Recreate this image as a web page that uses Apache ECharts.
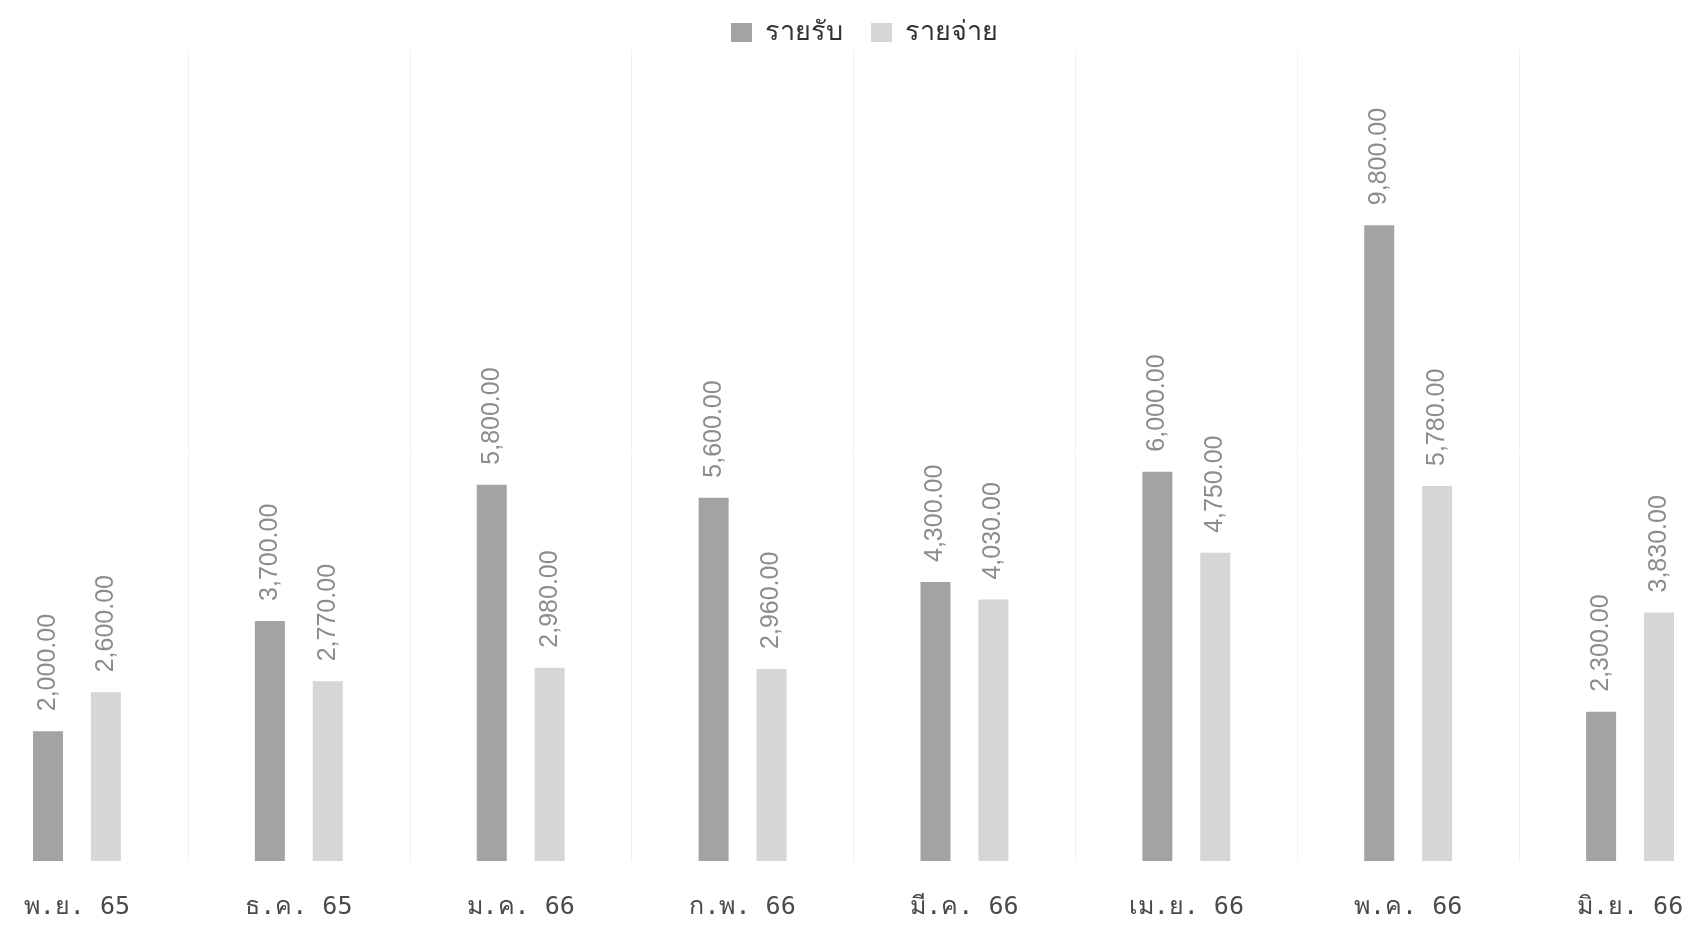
<!DOCTYPE html>
<html>
<head>
<meta charset="utf-8">
<script src="https://cdn.jsdelivr.net/npm/echarts@6/dist/echarts.min.js"></script>
<style>html,body{margin:0;padding:0;background:#fff;overflow:hidden}#c{width:1775px;height:930px;margin-left:-34px}</style>
</head>
<body>
<div id="c"></div>
<script>
const categories = ['พ.ย. 65','ธ.ค. 65','ม.ค. 66','ก.พ. 66','มี.ค. 66','เม.ย. 66','พ.ค. 66','มิ.ย. 66'];
const incomeName = 'รายรับ';
const expenseName = 'รายจ่าย';
const income = [2000, 3700, 5800, 5600, 4300, 6000, 9800, 2300];
const expense = [2600, 2770, 2980, 2960, 4030, 4750, 5780, 3830];

const fmt = v => v.toLocaleString('en-US', {minimumFractionDigits: 2, maximumFractionDigits: 2});
const labelCfg = {
  show: true, position: 'top', rotate: 90, align: 'left', verticalAlign: 'middle',
  distance: 20, color: '#8c8c8c', fontSize: 25, fontFamily: 'Liberation Sans',
  formatter: p => fmt(p.value)
};
const chart = echarts.init(document.getElementById('c'));
chart.setOption({
  animation: false,
  backgroundColor: '#ffffff',
  legend: {
    left: 760, top: 14,
    itemWidth: 21, itemHeight: 19, itemGap: 28,
    icon: 'rect',
    textStyle: {fontSize: 27, color: '#333', padding: [0, 0, 0, 8]},
    data: [incomeName, expenseName]
  },
  grid: {left: 0, right: 0, top: 50, bottom: 69, containLabel: false},
  xAxis: {
    type: 'category', data: categories,
    axisLine: {show: false}, axisTick: {show: false},
    splitLine: {show: true, lineStyle: {color: '#f1f1f1', width: 1}},
    axisLabel: {margin: 34, fontSize: 25, color: '#4a4a4a', fontFamily: 'DejaVu Sans Mono, monospace'}
  },
  yAxis: {type: 'value', min: 0, max: 12500, show: false, splitLine: {show: false}},
  series: [
    {name: incomeName, type: 'bar', data: income, barWidth: 30, barGap: '93%',
     itemStyle: {color: '#a3a3a3'}, label: labelCfg},
    {name: expenseName, type: 'bar', data: expense, barWidth: 30,
     itemStyle: {color: '#d6d6d6'}, label: labelCfg}
  ]
});
</script>
</body>
</html>
